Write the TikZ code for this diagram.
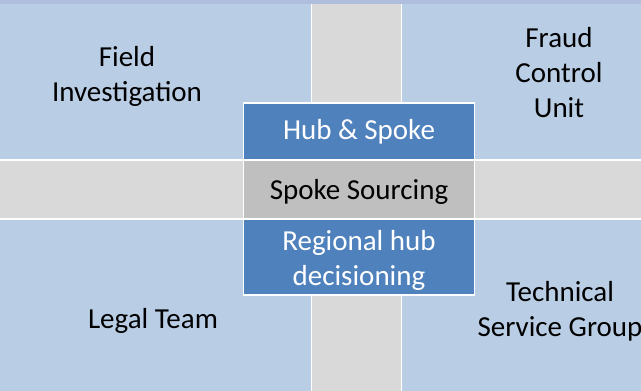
\documentclass[tikz,border=0pt]{standalone}
\usepackage{fontspec}
\setmainfont{Carlito}
\definecolor{quad}{RGB}{185,205,229}
\definecolor{strip}{RGB}{174,190,220}
\definecolor{band}{RGB}{217,217,217}
\definecolor{hubblue}{RGB}{79,129,189}
\definecolor{spokegray}{RGB}{191,191,191}
\begin{document}
\begin{tikzpicture}[x=1pt,y=-1pt,
  lbl/.style={font=\fontsize{29}{35}\selectfont, align=center, inner sep=0pt, text=black},
  cell/.style={draw=white, line width=1.5pt, minimum width=231pt, inner sep=0pt},
  bluecell/.style={cell, fill=hubblue},
  graycell/.style={cell, fill=spokegray},
  celltext/.style={lbl, text=white}]
\useasboundingbox (0,0) rectangle (641,391);
% background quadrants
\fill[quad] (0,0) rectangle (641,391);
\fill[strip] (0,0) rectangle (641,4);
% vertical band
\fill[white] (310.5,4) rectangle (402,391);
\fill[band] (312,4) rectangle (400.5,391);
% horizontal band
\fill[white] (0,159.2) rectangle (641,220);
\fill[band] (0,160.8) rectangle (641,218.4);
% quadrant labels
\node[lbl] (field) at (127,76.5) {Field\\Investigation};
\node[lbl] (fraud) at (559,72.5) {Fraud\\Control\\Unit};
\node[lbl] (legal) at (153,321) {Legal Team};
\node[lbl] (tech) at (560,311) {Technical\\Service Group};
% central stack
\node[bluecell, minimum height=57pt] (hub) at (359,131.5) {};
\node[graycell, minimum height=59pt] (spoke) at (359,189.5) {};
\node[bluecell, minimum height=76pt] (regional) at (359,257) {};
\node[celltext, yshift=-0.5pt] (hubtext) at (hub.center) {Hub \& Spoke};
\node[celltext, text=black, yshift=-2.5pt] (spoketext) at (spoke.center) {Spoke Sourcing};
\node[celltext, yshift=-3.5pt] (regionaltext) at (regional.center) {Regional hub\\decisioning};
\end{tikzpicture}
\end{document}
